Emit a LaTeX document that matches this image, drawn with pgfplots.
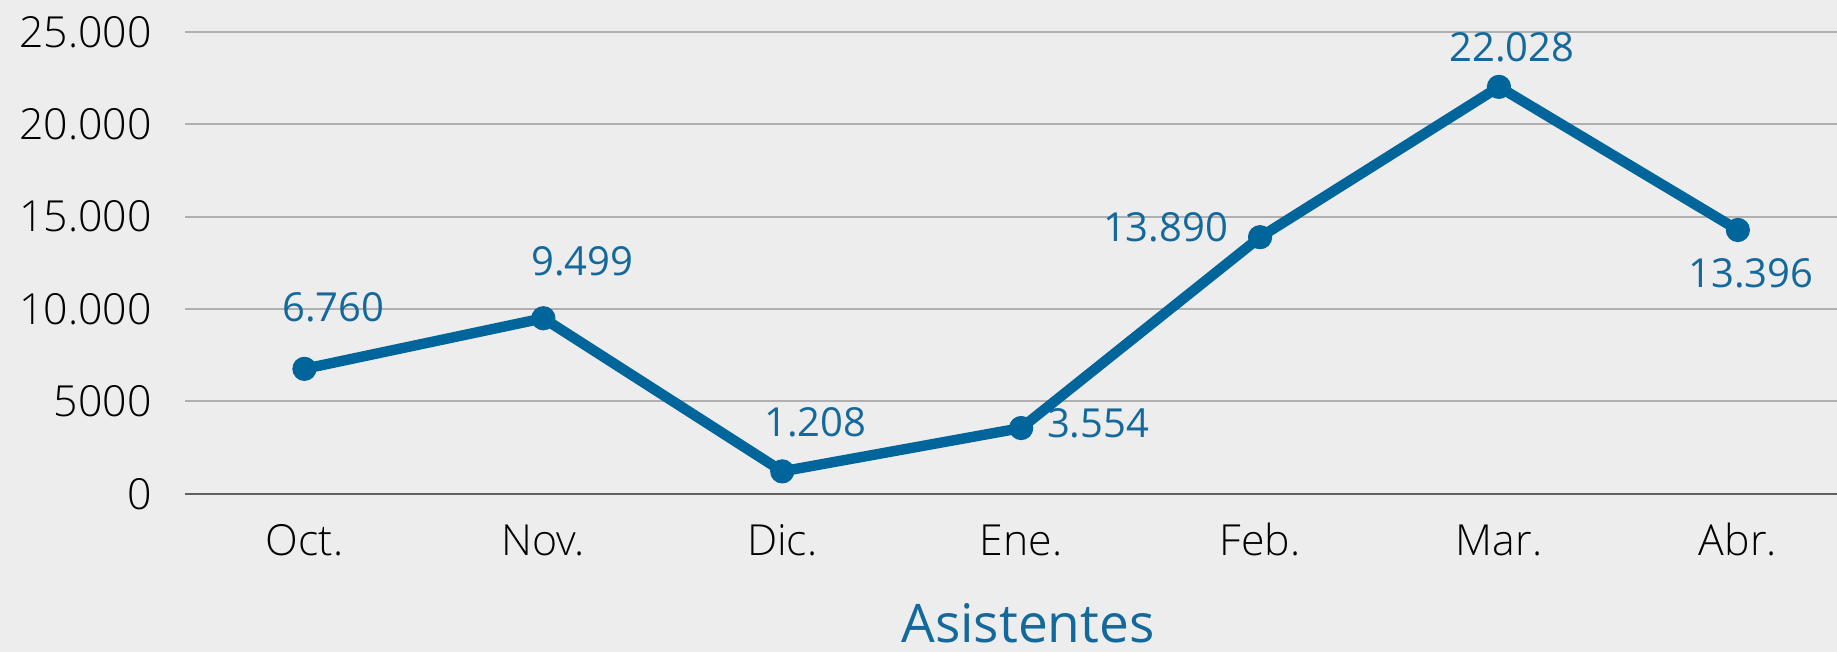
\documentclass[border=0pt]{standalone}
\usepackage{fontspec}
\setmainfont{Open Sans}
\newfontfamily\osl{Open Sans Light}
\usepackage{pgfplots}
\pgfplotsset{compat=1.18}
\usepackage{pgfplotstable}
\definecolor{bg}{HTML}{EDEDED}
\definecolor{lblue}{HTML}{00659B}
\definecolor{tblue}{HTML}{14699C}
\definecolor{gridc}{HTML}{B0B0B0}
\definecolor{basec}{HTML}{606060}

\pgfplotstableread{
x y dx dy lbl
0 6760 14.5 23.5 6.760
1 9499 19.5 21.5 9.499
2 1208 16.5 17.5 1.208
3 3554 38.5 -4.5 3.554
4 13890 -47.25 -2 13.890
5 22028 6.5 12.5 22.028
6 14280 6.5 -29 13.396
}\datatab

\begin{document}
\begin{tikzpicture}
\path[use as bounding box, fill=bg] (0,0) rectangle (918.5pt,326pt);
\begin{axis}[
  at={(92.5pt,79.15pt)}, anchor=south west,
  scale only axis, width=826pt, height=230.85pt,
  xmin=-0.5, xmax=6.415, ymin=0, ymax=25000,
  scaled y ticks=false,
  clip=false,
  axis line style={draw=none},
  major tick length=0pt,
  xtick={0,1,2,3,4,5,6},
  xticklabels={Oct.,Nov.,Dic.,Ene.,Feb.,Mar.,Abr.},
  ytick={5000,10000,15000,20000,25000},
  yticklabels={5000,10.000,15.000,20.000,25.000},
  extra y ticks={0}, extra y tick labels={0},
  extra y tick style={major grid style={basec, line width=1pt}},
  ymajorgrids,
  major grid style={gridc, line width=1pt},
  /pgf/number format/assume math mode=true,
  yticklabel style={anchor=east, inner sep=0pt, xshift=-16.5pt, font=\osl\fontsize{21.4}{26}\selectfont, text=black},
  xticklabel style={anchor=base, inner sep=0pt, yshift=-31pt, font=\osl\fontsize{21.4}{26}\selectfont, text=black},
]
\addplot[lblue, line width=5.2pt, line join=round, mark=*, mark size=5.8pt,
  mark options={line width=0.5pt, fill=lblue},
  point meta=explicit symbolic, nodes near coords,
  visualization depends on={\thisrow{dx} \as \dx},
  visualization depends on={\thisrow{dy} \as \dy},
  nodes near coords style={anchor=base, xshift={\dx pt}, yshift={\dy pt}, inner sep=0pt, text=tblue, font=\fontsize{20}{24}\selectfont}]
  table[x=x, y=y, meta=lbl] {\datatab};
\end{axis}
\node[anchor=base, inner sep=0pt, text=tblue, font=\fontsize{26.6}{32}\selectfont] at (514pt,4.8pt) {Asistentes};
\end{tikzpicture}
\end{document}
